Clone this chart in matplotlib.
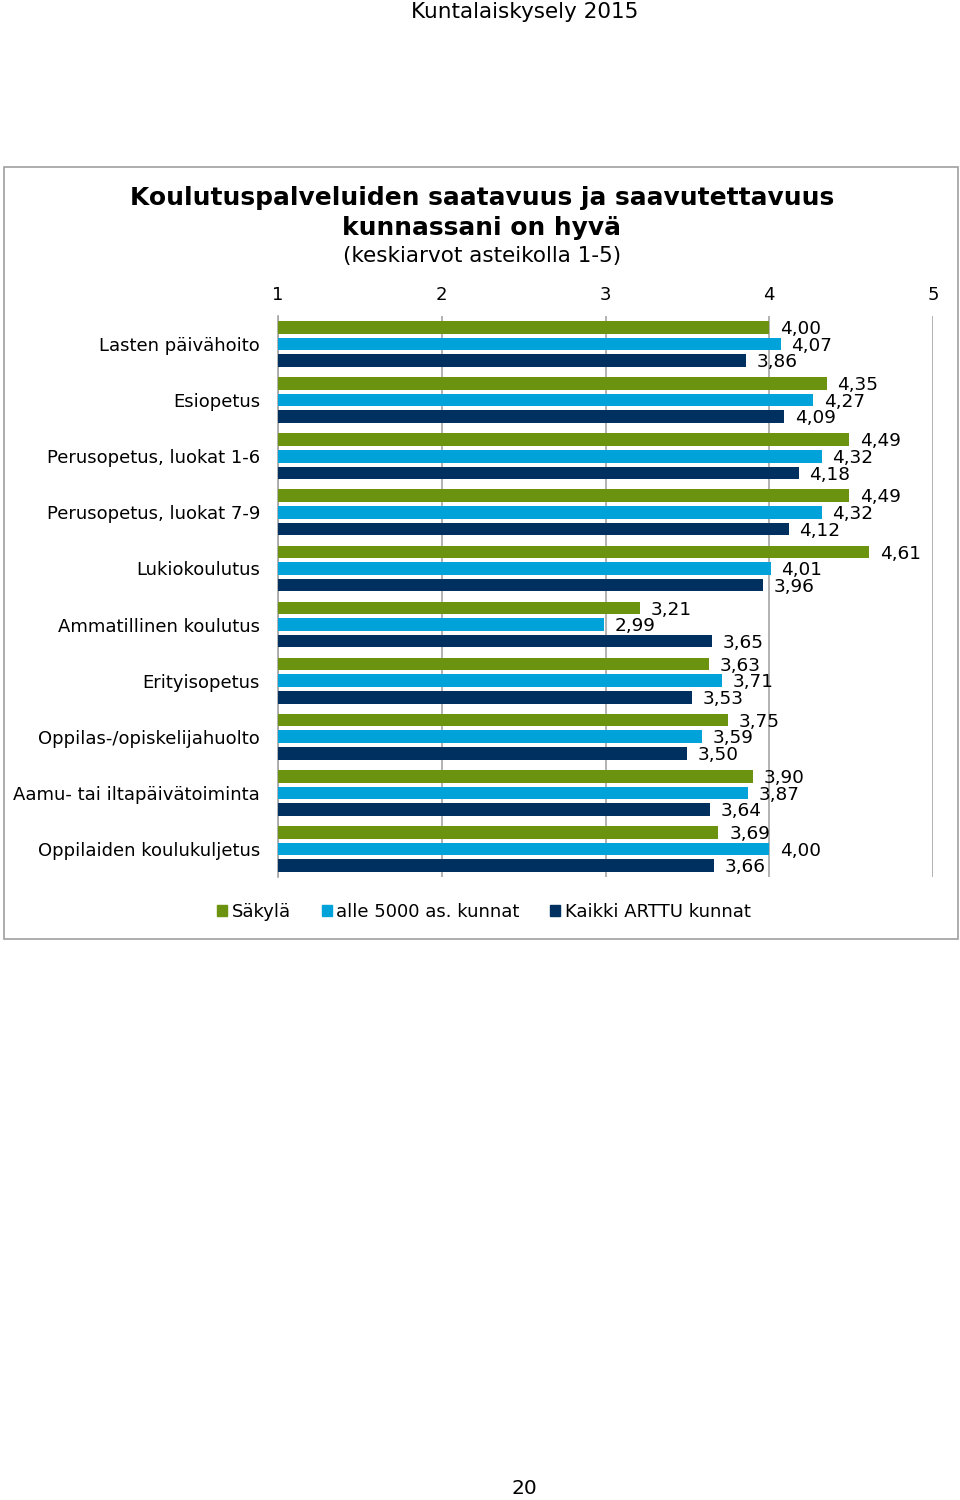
import numpy as np
import matplotlib.pyplot as plt
from matplotlib.patches import Patch, Rectangle

plt.rcParams['font.family'] = ['DejaVu Sans']

# -------------------------------
# Data
# -------------------------------
categories = [
    'Lasten päivähoito',
    'Esiopetus',
    'Perusopetus, luokat 1-6',
    'Perusopetus, luokat 7-9',
    'Lukiokoulutus',
    'Ammatillinen koulutus',
    'Erityisopetus',
    'Oppilas-/opiskelijahuolto',
    'Aamu- tai iltapäivätoiminta',
    'Oppilaiden koulukuljetus',
]
sakyla = [4.00, 4.35, 4.49, 4.49, 4.61, 3.21, 3.63, 3.75, 3.90, 3.69]
alle5000 = [4.07, 4.27, 4.32, 4.32, 4.01, 2.99, 3.71, 3.59, 3.87, 4.00]
arttu = [3.86, 4.09, 4.18, 4.12, 3.96, 3.65, 3.53, 3.50, 3.64, 3.66]
series_names = ['Säkylä', 'alle 5000 as. kunnat', 'Kaikki ARTTU kunnat']
x_ticks = [1, 2, 3, 4, 5]

colors = ['#6b930f', '#00a3d9', '#00305f']
GRID = '#a6a6a6'

fig = plt.figure(figsize=(9.6, 15), dpi=100)

# Chart frame
fig.patches.append(Rectangle((4 / 960, 1 - 939 / 1500), 954 / 960, 772 / 1500,
                             transform=fig.transFigure, fill=False,
                             edgecolor='#a0a0a0', linewidth=1.2))

fig.text(525 / 960, 1 - 12 / 1500, 'Kuntalaiskysely 2015', ha='center', va='center', fontsize=15.5)
fig.text(524 / 960, 1 - 1489 / 1500, '20', ha='center', va='center', fontsize=14.5)

fig.text(482 / 960, 1 - 198 / 1500, 'Koulutuspalveluiden saatavuus ja saavutettavuus',
         ha='center', va='center', fontsize=17.9, fontweight='bold')
fig.text(482 / 960, 1 - 228 / 1500, 'kunnassani on hyvä',
         ha='center', va='center', fontsize=17.9, fontweight='bold')
fig.text(482 / 960, 1 - 256 / 1500, '(keskiarvot asteikolla 1-5)',
         ha='center', va='center', fontsize=15.5)

ax = fig.add_axes([278 / 960, 1 - 877 / 1500, 655 / 960, 561 / 1500])

n = len(categories)
y = np.arange(n)
offsets = [-0.296, 0.0, 0.296]
height = 0.225
all_series = [sakyla, alle5000, arttu]

for s, (vals, off, col) in enumerate(zip(all_series, offsets, colors)):
    vals = np.array(vals)
    ax.barh(y + off, vals - 1, left=1, height=height, color=col, zorder=3)
    for yi, v in zip(y + off, vals):
        ax.text(v + 0.065, yi + 0.03, f'{v:.2f}'.replace('.', ','),
                ha='left', va='center', fontsize=13.3, zorder=4)

ax.set_xlim(1, 5)
ax.set_ylim(n - 0.5, -0.5)
ax.set_xticks(x_ticks)
ax.set_xticklabels([str(t) for t in x_ticks])
ax.xaxis.tick_top()
ax.tick_params(axis='x', length=0, pad=9, labelsize=13)
ax.set_yticks(y)
ax.set_yticklabels(categories)
ax.tick_params(axis='y', length=0, pad=13, labelsize=13)

ax.grid(axis='x', color=GRID, linewidth=1.2, zorder=0)
for side in ['top', 'right', 'bottom']:
    ax.spines[side].set_visible(False)
ax.spines['left'].set_color(GRID)
ax.spines['left'].set_linewidth(1.2)

handles = [Patch(color=c, label=l) for c, l in zip(colors, series_names)]
fig.legend(handles=handles, loc='center', bbox_to_anchor=(484 / 960, 1 - 912 / 1500),
           ncol=3, frameon=False, fontsize=13, handlelength=0.55, handleheight=0.55,
           handletextpad=0.25, columnspacing=1.7)

plt.savefig('out.png', dpi=100)
plt.close()
